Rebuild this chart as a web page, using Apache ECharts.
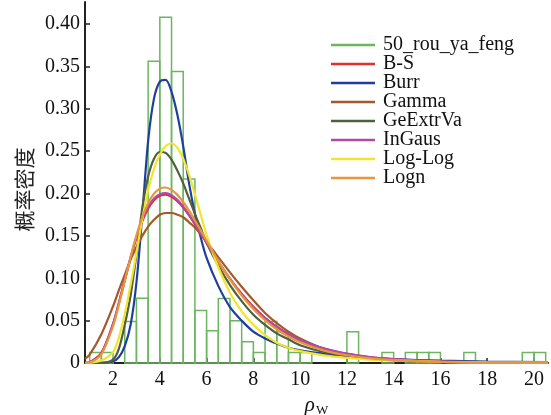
<!DOCTYPE html>
<html>
<head>
<meta charset="utf-8">
<script src="https://cdn.jsdelivr.net/npm/echarts@6/dist/echarts.min.js"></script>
<style>
  html, body { margin: 0; padding: 0; background: #fff; }
  #main { width: 551px; height: 415px; }
</style>
</head>
<body>
<div id="main"></div>
<script>
// 直方图：每个区间左端点 与 概率密度
var binLeft = [1.0, 1.5, 2.0, 2.5, 3.0, 3.5, 4.0, 4.5, 5.0, 5.5, 6.0, 6.5, 7.0, 7.5, 8.0, 8.5, 9.0, 9.5, 10.0, 10.5,
  11.0, 11.5, 12.0, 12.5, 13.0, 13.5, 14.0, 14.5, 15.0, 15.5, 16.0, 16.5, 17.0, 17.5, 18.0, 18.5, 19.0, 19.5, 20.0];
var binWidth = 0.5;
var density = [0.0123, 0.0123, 0, 0.049, 0.0765, 0.356, 0.408, 0.344, 0.217, 0.062, 0.038, 0.076, 0.050, 0.025, 0.0123, 0.049, 0.037, 0.0123, 0.0123, 0,
  0, 0, 0.037, 0, 0, 0.0123, 0, 0.0123, 0.0123, 0.0123, 0, 0, 0.0123, 0, 0, 0, 0, 0.0123, 0.0123];

// 拟合曲线的横坐标
var xs = [0.8, 1, 1.5, 2, 2.25, 2.5, 2.75, 3, 3.25, 3.5, 3.75, 4, 4.25, 4.5, 4.75, 5, 5.25, 5.5, 5.75, 6,
  6.5, 7, 7.5, 8, 8.5, 9, 9.5, 10, 11, 12, 13, 14, 16, 18, 20.6];

var bsPdf = [0.0001, 0.0009, 0.012, 0.0465, 0.071, 0.0976, 0.1238, 0.1475, 0.1671, 0.182, 0.1921, 0.1974, 0.1986, 0.1962, 0.1909, 0.1834, 0.1741, 0.1639, 0.153, 0.1419,
  0.12, 0.0996, 0.0817, 0.0663, 0.0534, 0.0428, 0.0341, 0.0271, 0.0171, 0.0108, 0.0068, 0.0043, 0.0018, 0.0007, 0.0003];
var burrPdf = [0, 0, 0.0003, 0.002, 0.007, 0.02, 0.045, 0.095, 0.175, 0.262, 0.312, 0.332, 0.334, 0.32, 0.293, 0.256, 0.212, 0.176, 0.148, 0.124,
  0.091, 0.066, 0.05, 0.037, 0.029, 0.023, 0.018, 0.015, 0.011, 0.008, 0.006, 0.0045, 0.0027, 0.0017, 0.001];
var gammaPdf = [0.005, 0.010, 0.034, 0.067, 0.086, 0.104, 0.122, 0.137, 0.150, 0.161, 0.169, 0.175, 0.177, 0.177, 0.175, 0.172, 0.166, 0.160, 0.152, 0.143,
  0.125, 0.107, 0.090, 0.074, 0.059, 0.047, 0.037, 0.029, 0.017, 0.010, 0.0054, 0.003, 0.0008, 0.0002, 0];
var gevPdf = [0, 0, 0, 0.004, 0.017, 0.045, 0.08, 0.128, 0.183, 0.22, 0.241, 0.249, 0.248, 0.24, 0.227, 0.212, 0.194, 0.176, 0.159, 0.142,
  0.115, 0.092, 0.073, 0.057, 0.045, 0.035, 0.028, 0.021, 0.013, 0.009, 0.006, 0.004, 0.002, 0.001, 0.0005];
var ingausPdf = [0.0001, 0.0008, 0.0115, 0.046, 0.071, 0.098, 0.125, 0.149, 0.169, 0.184, 0.194, 0.199, 0.2005, 0.198, 0.1925, 0.1848, 0.175, 0.1645, 0.1532, 0.1418,
  0.1195, 0.099, 0.081, 0.0657, 0.053, 0.0425, 0.034, 0.027, 0.0172, 0.011, 0.0071, 0.0046, 0.002, 0.0009, 0.0004];
var loglogPdf = [0, 0.0003, 0.003, 0.013, 0.03, 0.058, 0.092, 0.13, 0.17, 0.204, 0.229, 0.246, 0.256, 0.259, 0.254, 0.241, 0.222, 0.199, 0.175, 0.151,
  0.113, 0.083, 0.061, 0.045, 0.033, 0.024, 0.018, 0.014, 0.009, 0.006, 0.004, 0.003, 0.0015, 0.0008, 0.0004];
var lognPdf = [0.0001, 0.0006, 0.0103, 0.0435, 0.0688, 0.0967, 0.1248, 0.1504, 0.1721, 0.1886, 0.1998, 0.2058, 0.2071, 0.2043, 0.1984, 0.190, 0.1798, 0.1684, 0.1565, 0.1443,
  0.1205, 0.0987, 0.0797, 0.0638, 0.0505, 0.0398, 0.0313, 0.0245, 0.0149, 0.0091, 0.0055, 0.0034, 0.0013, 0.0005, 0.0002];

var xTicks = [2, 4, 6, 8, 10, 12, 14, 16, 18, 20];
var yTicks = [0, 0.05, 0.10, 0.15, 0.20, 0.25, 0.30, 0.35, 0.40];

var histName = '50_rou_ya_feng';
var curves = [
  { name: 'B-S', color: '#e0302c', data: bsPdf },
  { name: 'Burr', color: '#1f3f9c', data: burrPdf },
  { name: 'Gamma', color: '#a5582a', data: gammaPdf },
  { name: 'GeExtrVa', color: '#505f3c', data: gevPdf },
  { name: 'InGaus', color: '#b04aa8', data: ingausPdf },
  { name: 'Log-Log', color: '#f2e530', data: loglogPdf },
  { name: 'Logn', color: '#e8963a', data: lognPdf }
];

var serif = '"Liberation Serif", "DejaVu Serif", serif';

var histData = binLeft.map(function (x, i) { return [x, x + binWidth, density[i]]; });

var series = [{
  name: histName,
  type: 'custom',
  color: '#6cb660',
  data: histData,
  encode: { x: [0, 1], y: 2 },
  renderItem: function (params, api) {
    var h = api.value(2);
    if (!h) return;
    var p0 = api.coord([api.value(0), 0]);
    var p1 = api.coord([api.value(1), h]);
    return {
      type: 'rect',
      shape: { x: p0[0], y: p1[1], width: p1[0] - p0[0], height: p0[1] - p1[1] },
      style: { fill: 'none', stroke: '#6cb660', lineWidth: 1.5 }
    };
  },
  z: 1
}];

curves.forEach(function (c) {
  series.push({
    name: c.name,
    type: 'line',
    color: c.color,
    smooth: 0.3,
    symbol: 'none',
    lineStyle: { width: 2.2, color: c.color },
    data: xs.map(function (x, i) { return [x, c.data[i]]; }),
    z: 2
  });
});

var chart = echarts.init(document.getElementById('main'));
chart.setOption({
  animation: false,
  grid: { left: 85, right: 3, top: 2, bottom: 52, outerBoundsMode: 'none', containLabel: false },
  legend: {
    orient: 'vertical',
    left: 331,
    top: 35,
    padding: 0,
    icon: 'rect',
    itemWidth: 44,
    itemHeight: 2.5,
    itemGap: -1,
    textStyle: { fontFamily: serif, fontSize: 20, color: '#111', lineHeight: 18, padding: [0, 0, 0, 3] },
    data: [histName].concat(curves.map(function (c) { return c.name; }))
  },
  xAxis: {
    type: 'value',
    min: 0.8,
    max: 20.6,
    name: '{a|ρ}{b|W}',
    nameLocation: 'middle',
    nameGap: 29,
    nameTextStyle: {
      rich: {
        a: { fontFamily: serif, fontStyle: 'italic', fontSize: 21, color: '#111' },
        b: { fontFamily: serif, fontSize: 13, color: '#111', padding: [10, 0, 0, 1] }
      }
    },
    axisLine: { onZero: false, lineStyle: { color: '#222', width: 2 } },
    axisTick: { inside: true, length: 5, lineStyle: { color: '#222', width: 1.5 }, customValues: xTicks },
    axisLabel: { fontFamily: serif, fontSize: 20, color: '#111', margin: 7, customValues: xTicks },
    splitLine: { show: false }
  },
  yAxis: {
    type: 'value',
    min: 0,
    max: 0.426,
    name: '概率密度',
    nameLocation: 'middle',
    nameGap: 50,
    nameTextStyle: { fontFamily: '"Noto Sans CJK SC"', fontSize: 21, color: '#222', padding: [0, 14, 0, 0] },
    axisLine: { show: true, lineStyle: { color: '#222', width: 2 } },
    axisTick: { show: true, inside: true, length: 5, lineStyle: { color: '#222', width: 1.5 }, customValues: yTicks },
    axisLabel: {
      fontFamily: serif, fontSize: 20, color: '#111', margin: 5, customValues: yTicks,
      formatter: function (v) { return v === 0 ? '0' : v.toFixed(2); }
    },
    splitLine: { show: false }
  },
  series: series
});
</script>
</body>
</html>
